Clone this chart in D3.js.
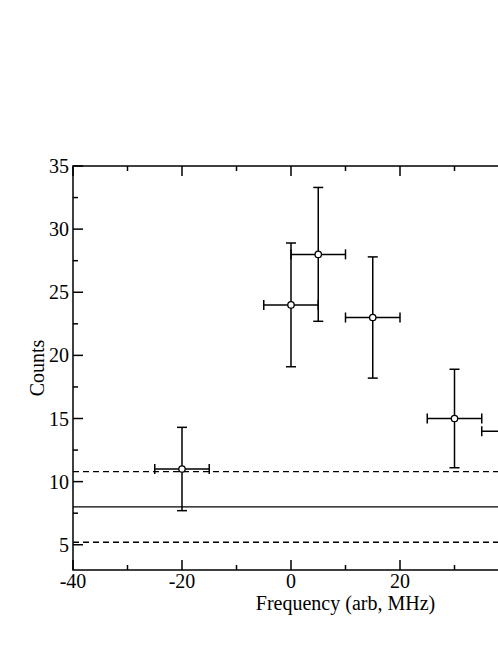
<!DOCTYPE html>
<html>
<head>
<meta charset="utf-8">
<script src="https://cdn.jsdelivr.net/npm/d3@7"></script>
<style>
  html, body { margin: 0; padding: 0; background: #fff; overflow: hidden; }
  svg { display: block; }
  text { font-family: "Liberation Serif", "DejaVu Serif", serif; fill: #000; }
</style>
</head>
<body>
<svg id="chart" width="498" height="645"></svg>
<script>
// Data
const freq    = [-20, 0, 5, 15, 30, 40];
const counts  = [11, 24, 28, 23, 15, 14];
const yErr    = [3.3, 4.9, 5.3, 4.8, 3.9, 3.7];
const xErr    = [5, 5, 5, 5, 5, 5];
const meanLevel = 8;
const bandLevels = [10.8, 5.2];
const xTicks = [-40, -20, 0, 20, 40, 60];
const yTicks = [5, 10, 15, 20, 25, 30, 35];

(function () {
const W = 498;
const svg = d3.select("#chart");
const plotLeft = 73, plotTop = 166, plotBottom = 570;
const x = d3.scaleLinear().domain([-40, 60]).range([plotLeft, plotLeft + 545]);
const y = d3.scaleLinear().domain([3, 35]).range([plotBottom, plotTop]);
const plotRight = x(60);
const FS = 20;

const g = svg.append("g");

// frame
g.append("rect")
  .attr("x", plotLeft).attr("y", plotTop)
  .attr("width", plotRight - plotLeft).attr("height", plotBottom - plotTop)
  .attr("fill", "none").attr("stroke", "#000").attr("stroke-width", 1.5);

// ticks (inward)
const xMinor = d3.range(-40, 61, 10);
const yMinor = d3.range(5, 35.1, 2.5);
const tickLine = (x1, y1, x2, y2) => g.append("line")
  .attr("x1", x1).attr("y1", y1).attr("x2", x2).attr("y2", y2)
  .attr("stroke", "#000").attr("stroke-width", 1.5);

xMinor.forEach(v => {
  const len = xTicks.includes(v) ? 10 : 5;
  tickLine(x(v), plotBottom, x(v), plotBottom - len);
  tickLine(x(v), plotTop, x(v), plotTop + len);
});
yMinor.forEach(v => {
  const len = yTicks.includes(v) ? 10 : 5;
  tickLine(plotLeft, y(v), plotLeft + len, y(v));
  tickLine(plotRight, y(v), plotRight - len, y(v));
});

// tick labels (only those inside the visible window)
g.selectAll(".xl").data(xTicks.filter(d => x(d) + 15 < W)).enter().append("text")
  .attr("x", d => x(d)).attr("y", plotBottom + 18)
  .attr("text-anchor", "middle").attr("font-size", FS)
  .text(d => d);
g.selectAll(".yl").data(yTicks).enter().append("text")
  .attr("x", plotLeft - 4).attr("y", d => y(d) + 7)
  .attr("text-anchor", "end").attr("font-size", FS)
  .text(d => d);

// axis titles
g.append("text")
  .attr("x", (plotLeft + plotRight) / 2).attr("y", plotBottom + 40)
  .attr("text-anchor", "middle").attr("font-size", FS)
  .text("Frequency (arb, MHz)");
g.append("text")
  .attr("transform", `translate(44, ${(plotTop + plotBottom) / 2}) rotate(-90)`)
  .attr("text-anchor", "middle").attr("font-size", FS)
  .text("Counts");

// horizontal reference lines
g.append("line")
  .attr("x1", plotLeft).attr("x2", plotRight)
  .attr("y1", y(meanLevel)).attr("y2", y(meanLevel))
  .attr("stroke", "#000").attr("stroke-width", 1.3);
bandLevels.forEach(v => {
  g.append("line")
    .attr("x1", plotLeft).attr("x2", plotRight)
    .attr("y1", y(v)).attr("y2", y(v))
    .attr("stroke", "#000").attr("stroke-width", 1.3)
    .attr("stroke-dasharray", "6,4");
});

// error bars & points
const cap = 5;
const pts = freq.map((f, i) => ({f, c: counts[i], ey: yErr[i], ex: xErr[i]}));
const eb = g.append("g").attr("stroke", "#000").attr("stroke-width", 1.5);
pts.forEach(d => {
  const cx = x(d.f), cy = y(d.c);
  const y1 = y(d.c + d.ey), y2 = y(d.c - d.ey);
  const x1 = x(d.f - d.ex), x2 = x(d.f + d.ex);
  eb.append("line").attr("x1", cx).attr("x2", cx).attr("y1", y1).attr("y2", y2);
  eb.append("line").attr("x1", cx - cap).attr("x2", cx + cap).attr("y1", y1).attr("y2", y1);
  eb.append("line").attr("x1", cx - cap).attr("x2", cx + cap).attr("y1", y2).attr("y2", y2);
  eb.append("line").attr("x1", x1).attr("x2", x2).attr("y1", cy).attr("y2", cy);
  eb.append("line").attr("x1", x1).attr("x2", x1).attr("y1", cy - cap).attr("y2", cy + cap);
  eb.append("line").attr("x1", x2).attr("x2", x2).attr("y1", cy - cap).attr("y2", cy + cap);
});
g.selectAll(".pt").data(pts).enter().append("circle")
  .attr("cx", d => x(d.f)).attr("cy", d => y(d.c)).attr("r", 3.2)
  .attr("fill", "#fff").attr("stroke", "#000").attr("stroke-width", 1.3);
})();
</script>
</body>
</html>
